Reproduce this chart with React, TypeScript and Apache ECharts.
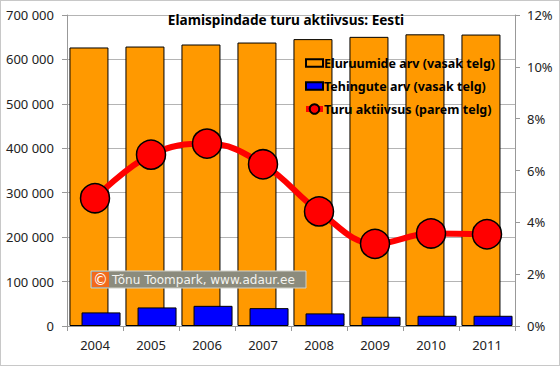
import React, { useEffect, useRef } from "react";
import * as echarts from "echarts";

const years = ["2004", "2005", "2006", "2007", "2008", "2009", "2010", "2011"];
const dwellings = [626900, 629000, 633600, 638000, 645700, 650800, 656500, 656000];
const transactions = [30600, 41800, 45400, 40200, 28400, 20800, 23000, 23000];
const activity = [4.93, 6.61, 7.04, 6.24, 4.42, 3.17, 3.57, 3.54];
const titleText = "Elamispindade turu aktiivsus: Eesti";
const seriesNames = ["Eluruumide arv (vasak telg)", "Tehingute arv (vasak telg)", "Turu aktiivsus (parem telg)"];
const watermark = "Tõnu Toompark, www.adaur.ee";

export default function App() {
  const ref = useRef<HTMLDivElement>(null);
  useEffect(() => {
    document.body.style.margin = "0";
    if (!ref.current) return;
    const chart = echarts.init(ref.current, null, { renderer: "svg" });
    const axisFont = { fontFamily: "Noto Sans", fontSize: 13, color: "#222" };
    const rectIcon = "path://M0,0h16v7h-16z";
    chart.setOption({
      animation: false,
      backgroundColor: "#fff",
      title: {
        text: titleText,
        left: 280,
        textAlign: "center",
        top: 6,
        textStyle: { fontFamily: "Noto Sans", fontWeight: "bold", fontSize: 13.6, color: "#000" },
      },
      legend: {
        orient: "vertical",
        left: 297,
        top: 49,
        itemWidth: 17,
        itemHeight: 12,
        itemGap: 7,
        symbolKeepAspect: true,
        textStyle: { fontFamily: "Noto Sans", fontWeight: "bold", fontSize: 12.5, color: "#000", lineHeight: 16, padding: [0, 0, 0, -4] },
        data: [
          { name: seriesNames[0], icon: rectIcon },
          { name: seriesNames[1], icon: rectIcon },
          { name: seriesNames[2], lineStyle: { width: 6 } },
        ],
      },
      grid: { left: 66, right: 44, top: 14, bottom: 39, containLabel: false },
      xAxis: {
        type: "category",
        data: years,
        axisLine: { lineStyle: { color: "#999" } },
        axisTick: { show: true, length: 5, lineStyle: { color: "#999" } },
        axisLabel: { ...axisFont, margin: 12 },
      },
      yAxis: [
        {
          type: "value",
          min: 0,
          max: 700000,
          interval: 100000,
          axisLine: { show: true, lineStyle: { color: "#999" } },
          axisTick: { show: true, length: 5, lineStyle: { color: "#999" } },
          splitLine: { lineStyle: { color: "#b4b4b4" } },
          axisLabel: {
            ...axisFont,
            margin: 13,
            formatter: (v: number) => String(v).replace(/\B(?=(\d{3})+(?!\d))/g, " "),
          },
        },
        {
          type: "value",
          min: 0,
          max: 12,
          interval: 2,
          position: "right",
          axisLine: { show: true, lineStyle: { color: "#999" } },
          axisTick: { show: true, length: 5, lineStyle: { color: "#999" } },
          splitLine: { show: false },
          axisLabel: { ...axisFont, margin: 12, formatter: "{value}%" },
        },
      ],
      series: [
        {
          name: seriesNames[0],
          type: "bar",
          data: dwellings,
          barWidth: 39,
          barGap: "-69%",
          itemStyle: { color: "#FF9900", borderColor: "#000", borderWidth: 1 },
        },
        {
          name: seriesNames[1],
          type: "bar",
          data: transactions,
          barWidth: 39,
          itemStyle: { color: "#0000FF", borderColor: "#000", borderWidth: 1 },
        },
        {
          name: seriesNames[2],
          type: "line",
          yAxisIndex: 1,
          data: activity,
          smooth: 0.4,
          symbol: "circle",
          symbolSize: 29,
          lineStyle: { color: "#FF0000", width: 6 },
          itemStyle: { color: "#FF0000", borderColor: "#000", borderWidth: 1.5 },
          z: 5,
        },
      ],
      graphic: [
        { type: "rect", z: 100, shape: { x: 90, y: 270, width: 215, height: 17 }, style: { fill: "#8b8b7d", stroke: "#d0d0c8", lineWidth: 1 } },
        { type: "rect", z: 101, shape: { x: 91, y: 271, width: 17, height: 15 }, style: { fill: "#f26a1b" } },
        { type: "text", z: 102, x: 99.5, y: 278.5, style: { text: "©", fill: "#fff", fontSize: 15, fontFamily: "DejaVu Sans", align: "center", verticalAlign: "middle" } },
        { type: "text", z: 102, x: 111, y: 279, style: { text: watermark, fill: "#f4f4f0", fontSize: 12, fontFamily: "DejaVu Sans", verticalAlign: "middle" } },
      ],
    });
    return () => chart.dispose();
  }, []);
  return (
    <div style={{ width: 560, height: 366, boxSizing: "border-box", border: "1px solid #c8c8c8", overflow: "hidden" }}>
      <div ref={ref} style={{ width: 558, height: 364 }} />
    </div>
  );
}
